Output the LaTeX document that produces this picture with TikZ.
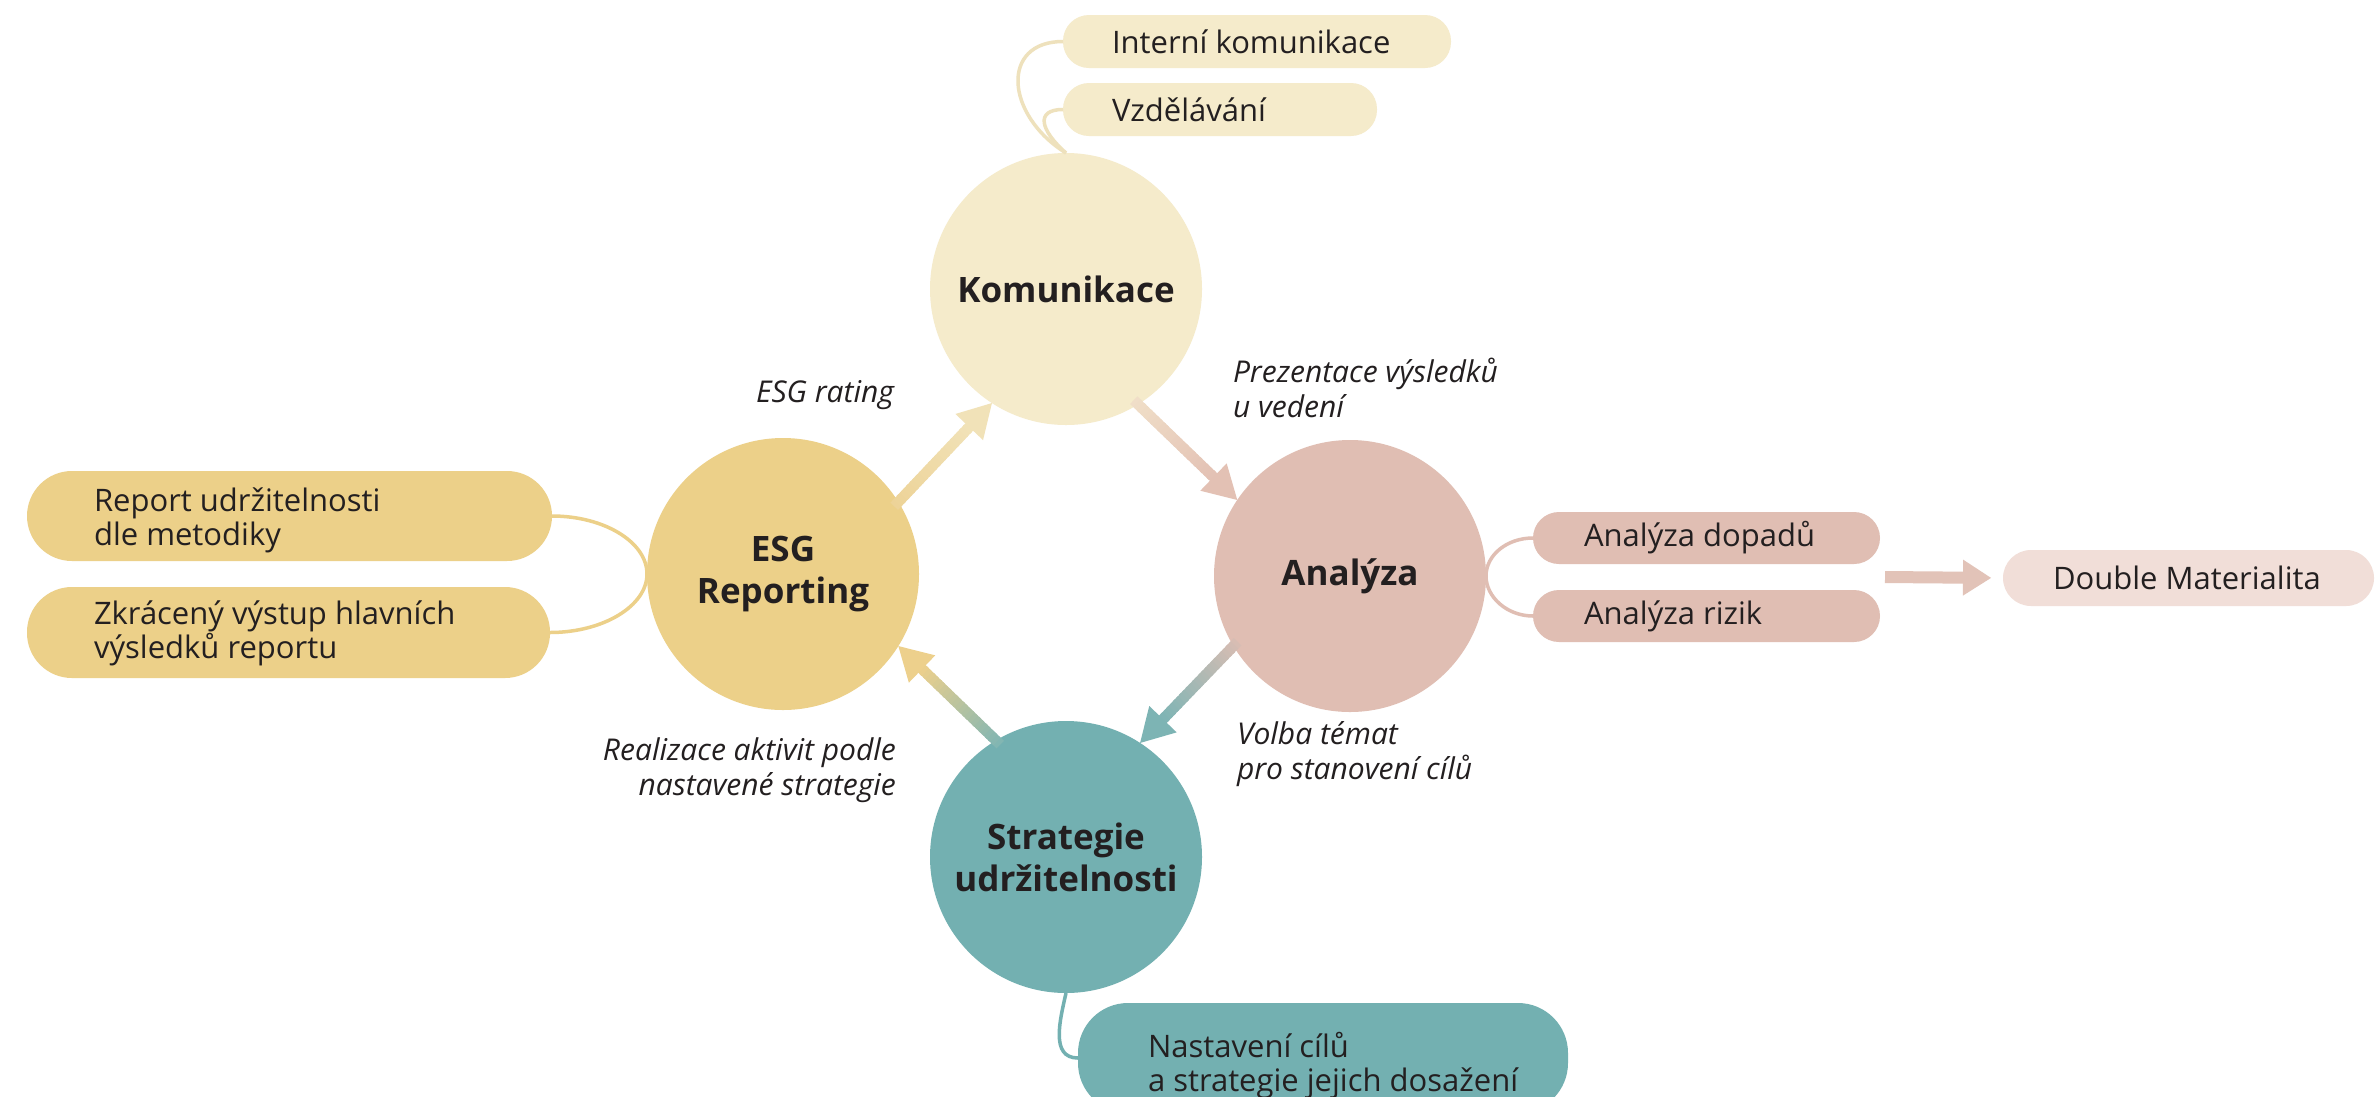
\documentclass[tikz,border=0pt]{standalone}
\usepackage{fontspec}
\setmainfont{Open Sans}
\usetikzlibrary{calc}
\definecolor{komC}{HTML}{F5EBCB}
\definecolor{komL}{HTML}{EEE1BC}
\definecolor{esgC}{HTML}{ECD089}
\definecolor{anaC}{HTML}{E0BEB3}
\definecolor{dmC}{HTML}{F1DED8}
\definecolor{strC}{HTML}{73B0B1}
\definecolor{txt}{HTML}{231F20}
\definecolor{aEKs}{HTML}{EDD397}
\definecolor{aEKe}{HTML}{F1E2B8}
\definecolor{aKAs}{HTML}{F0DFC8}
\definecolor{aKAe}{HTML}{E3C1B4}
\definecolor{aASs}{HTML}{D9BDB3}
\definecolor{aASe}{HTML}{7DB4B4}
\definecolor{aSEs}{HTML}{80B5B3}
\definecolor{aSEe}{HTML}{EDD08C}
\definecolor{dmA}{HTML}{E2C3B8}
\newcommand\gradarr[4]{%
  \coordinate (ga) at ($(#1)!-6pt!(#2)$);
  \coordinate (gb) at ($(#2)!33pt!(#1)$);
  \foreach \gi in {0,...,23}{%
    \pgfmathsetmacro\gta{\gi/24}%
    \pgfmathsetmacro\gtb{min((\gi+1.6)/24,1.05)}%
    \pgfmathtruncatemacro\gpc{100*(\gi+0.5)/24}%
    \draw[line width=10.5pt, color=#4!\gpc!#3] ($(ga)!\gta!(gb)$) -- ($(ga)!\gtb!(gb)$);
  }%
  \fill[#4] (#2) -- ($(gb)!19pt!90:(#2)$) -- ($(gb)!19pt!-90:(#2)$) -- cycle;
}
\begin{document}
\begin{tikzpicture}[x=1pt,y=-1pt,
  hub/.style={circle, minimum size=272pt, inner sep=0pt, outer sep=0pt, align=center, text=txt, font=\fontsize{35}{42}\selectfont\bfseries},
  pill/.style={rectangle, rounded corners=#1, inner sep=0pt, outer sep=0pt, anchor=west},
  ptext/.style={inner sep=0pt, outer sep=0pt, anchor=west, align=left, text=txt, font=\fontsize{31}{34}\selectfont},
  itext/.style={inner sep=0pt, outer sep=0pt, text=txt, font=\fontsize{30}{35}\selectfont\itshape},
  vine/.style={line width=3.5pt}]
\fill[white] (0,0) rectangle (2377,1096);
\useasboundingbox (0,0) rectangle (2377,1096);

% pills
\node[pill=26pt, fill=komC, minimum width=388pt, minimum height=53pt] (interni) at (1063,41.5) {};
\node[pill=26pt, fill=komC, minimum width=314pt, minimum height=53pt] (vzdel) at (1063,109.5) {};
\node[pill=45pt, fill=esgC, minimum width=525pt, minimum height=90pt] (report) at (27,516) {};
\node[pill=45pt, fill=esgC, minimum width=523pt, minimum height=91pt] (zkrac) at (27,632.5) {};
\node[pill=26pt, fill=anaC, minimum width=347pt, minimum height=52pt] (dopady) at (1533,538) {};
\node[pill=26pt, fill=anaC, minimum width=347pt, minimum height=52pt] (rizika) at (1533,616) {};
\node[pill=28pt, fill=dmC, minimum width=371pt, minimum height=56pt] (dm) at (2003,578) {};
\node[pill=50pt, fill=strC, minimum width=490pt, minimum height=110pt] (nastav) at (1078,1058) {};

% pill texts
\node[ptext] (interniT) at (1112,41.5) {Interní komunikace};
\node[ptext] (vzdelT) at (1112,109.5) {Vzdělávání};
\node[ptext] (reportT) at (94,520) {Report udržitelnosti\\dle metodiky};
\node[ptext] (zkracT) at (94,633) {Zkrácený výstup hlavních\\výsledků reportu};
\node[ptext] (dopadyT) at (1584,538) {Analýza dopadů};
\node[ptext] (rizikaT) at (1584,616) {Analýza rizik};
\node[ptext] (dmT) at (2053,578) {Double Materialita};
\node[ptext] (nastavT) at (1148,1066) {Nastavení cílů\\a strategie jejich dosažení};

% hubs
\node[hub, fill=komC] (K) at (1066,289) {Komunikace};
\node[hub, fill=esgC] (E) at (783,574) {ESG\\Reporting};
\node[hub, fill=anaC] (A) at (1350,576) {Analýza};
\node[hub, fill=strC] (S) at (1066,857) {Strategie\\udržitelnosti};

% vines
\draw[vine, komL] (K.north) .. controls (1005,115) and (1000,41.5) .. (interni.west);
\draw[vine, komL] (K.north) .. controls (1040,130) and (1035,109.5) .. (vzdel.west);
\draw[vine, esgC] (report.east) .. controls (604,516) and (647,542) .. (E.west);
\draw[vine, esgC] (E.west) .. controls (647,606) and (603,632.5) .. (zkrac.east);
\draw[vine, anaC] (A.east) .. controls (1486,555) and (1507,538) .. (dopady.west);
\draw[vine, anaC] (A.east) .. controls (1486,597) and (1507,616) .. (rizika.west);
\draw[vine, strC] (S.south) .. controls (1060,1020) and (1050,1058) .. (nastav.west);

% cycle arrows
\gradarr{E.32}{K.237}{aEKs}{aEKe}
\gradarr{K.-58}{A.146}{aKAs}{aKAe}
\gradarr{A.211}{S.57}{aASs}{aASe}
\gradarr{S.121}{E.-32}{aSEs}{aSEe}

% arrow to Double Materialita
\coordinate (dmS) at ($(dopady.east)!0.5!(rizika.east)+(5,0)$);
\coordinate (dmTip) at ($(dm.west)!12pt!(dmS)$);
\coordinate (dmB) at ($(dmTip)!28pt!(dmS)$);
\draw[line width=12pt, dmA] (dmS) -- ($(dmB)!-2pt!(dmS)$);
\fill[dmA] (dmTip) -- ($(dmB)!18pt!90:(dmTip)$) -- ($(dmB)!18pt!-90:(dmTip)$) -- cycle;

% arrow labels
\node[itext] (lblEK) at (825,395) {ESG rating};
\node[itext, anchor=west, align=left] (lblKA) at (1233,388) {Prezentace výsledků\\u vedení};
\node[itext, anchor=west, align=left] (lblAS) at (1237,754) {Volba témat\\pro stanovení cílů};
\node[itext, anchor=east, align=right] (lblSE) at (896,770) {Realizace aktivit podle\\nastavené strategie};
\end{tikzpicture}
\end{document}
